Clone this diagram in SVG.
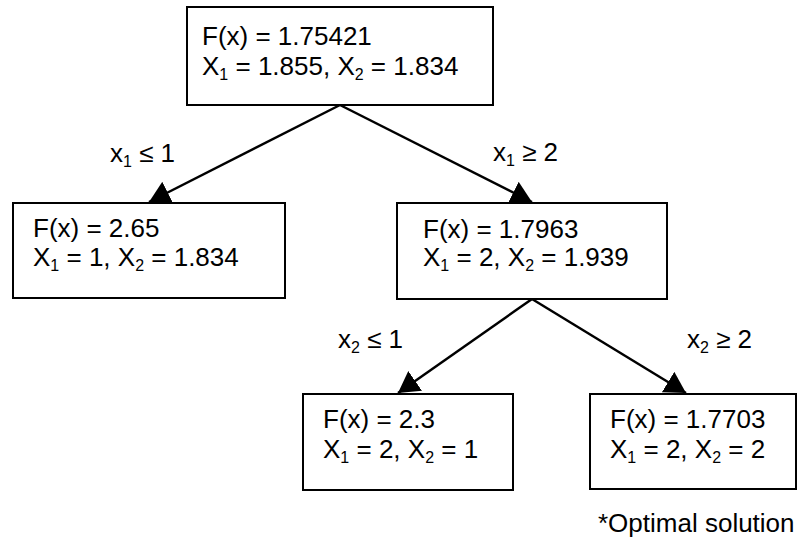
<svg xmlns="http://www.w3.org/2000/svg" width="800" height="539" viewBox="0 0 800 539">
  <style>
    .box { fill: #ffffff; stroke: #000000; stroke-width: 2; }
    .edge { stroke: #000000; stroke-width: 2.5; fill: none; marker-end: url(#head); }
    text { font-family: "Liberation Sans", Arial, sans-serif; font-size: 26px; fill: #000000; }
    .sub { font-size: 16px; }
  </style>
  <defs>
    <marker id="head" viewBox="0 0 21 24" refX="21" refY="12" markerWidth="21" markerHeight="24" markerUnits="userSpaceOnUse" orient="auto">
      <path d="M0,0 L21,12 L0,24 z" fill="#000000"/>
    </marker>
  </defs>

  <!-- branching connectors -->
  <g id="connectors">
    <line class="edge" x1="340" y1="105" x2="149" y2="202"/>
    <line class="edge" x1="340" y1="105" x2="532" y2="202"/>
    <line class="edge" x1="532" y1="299" x2="398" y2="393"/>
    <line class="edge" x1="532" y1="299" x2="686" y2="393"/>
  </g>

  <!-- branch conditions -->
  <g id="labels">
    <text x="110" y="162">x<tspan class="sub" dy="5">1</tspan><tspan dy="-5"> ≤ 1</tspan></text>
    <text x="493" y="161">x<tspan class="sub" dy="5">1</tspan><tspan dy="-5"> ≥ 2</tspan></text>
    <text x="338" y="348">x<tspan class="sub" dy="5">2</tspan><tspan dy="-5"> ≤ 1</tspan></text>
    <text x="687" y="348">x<tspan class="sub" dy="5">2</tspan><tspan dy="-5"> ≥ 2</tspan></text>
  </g>

  <g id="root">
    <rect class="box" x="187" y="7" width="306" height="98"/>
    <text x="202" y="45">F(x) = 1.75421</text>
    <text x="202" y="75">X<tspan class="sub" dy="5">1</tspan><tspan dy="-5"> = 1.855, X</tspan><tspan class="sub" dy="5">2</tspan><tspan dy="-5"> = 1.834</tspan></text>
  </g>

  <g id="left">
    <rect class="box" x="13" y="203" width="272" height="95"/>
    <text x="33" y="237">F(x) = 2.65</text>
    <text x="33" y="266">X<tspan class="sub" dy="5">1</tspan><tspan dy="-5"> = 1, X</tspan><tspan class="sub" dy="5">2</tspan><tspan dy="-5"> = 1.834</tspan></text>
  </g>

  <g id="right">
    <rect class="box" x="397" y="203" width="270" height="96"/>
    <text x="423" y="238">F(x) = 1.7963</text>
    <text x="423" y="266">X<tspan class="sub" dy="5">1</tspan><tspan dy="-5"> = 2, X</tspan><tspan class="sub" dy="5">2</tspan><tspan dy="-5"> = 1.939</tspan></text>
  </g>

  <g id="right-left">
    <rect class="box" x="303" y="394" width="210" height="96"/>
    <text x="323" y="428">F(x) = 2.3</text>
    <text x="323" y="458">X<tspan class="sub" dy="5">1</tspan><tspan dy="-5"> = 2, X</tspan><tspan class="sub" dy="5">2</tspan><tspan dy="-5"> = 1</tspan></text>
  </g>

  <g id="right-right">
    <rect class="box" x="590" y="394" width="206" height="95"/>
    <text x="610" y="428">F(x) = 1.7703</text>
    <text x="610" y="458">X<tspan class="sub" dy="5">1</tspan><tspan dy="-5"> = 2, X</tspan><tspan class="sub" dy="5">2</tspan><tspan dy="-5"> = 2</tspan></text>
  </g>

  <text x="598" y="532">*Optimal solution</text>
</svg>
